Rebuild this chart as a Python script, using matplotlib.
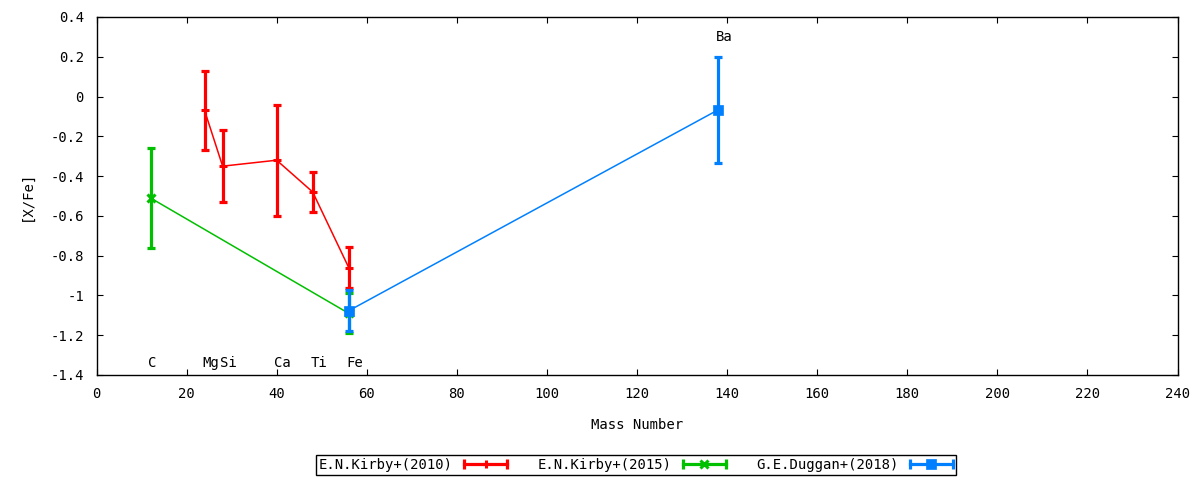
import matplotlib
matplotlib.use('Agg')
import matplotlib.pyplot as plt
from matplotlib.legend_handler import HandlerBase
from matplotlib.lines import Line2D

# ---- data ----
mass_2010 = [24, 28, 40, 48, 56]
xfe_2010 = [-0.07, -0.35, -0.32, -0.48, -0.86]
err_2010 = [0.20, 0.18, 0.28, 0.10, 0.105]

mass_2015 = [12, 56]
xfe_2015 = [-0.51, -1.09]
err_2015 = [0.25, 0.10]

mass_2018 = [56, 138]
xfe_2018 = [-1.077, -0.067]
err_2018 = [0.103, 0.267]

elem_names = ['C', 'Mg', 'Si', 'Ca', 'Ti', 'Fe', 'Ba']
elem_mass = [12, 24, 28, 40, 48, 56, 138]
elem_label_y = [-1.34, -1.34, -1.34, -1.34, -1.34, -1.34, 0.30]

x_ticks = [0, 20, 40, 60, 80, 100, 120, 140, 160, 180, 200, 220, 240]
y_ticks = [0.4, 0.2, 0, -0.2, -0.4, -0.6, -0.8, -1, -1.2, -1.4]
y_tick_labels = ['0.4', '0.2', '0', '-0.2', '-0.4', '-0.6', '-0.8', '-1', '-1.2', '-1.4']

RED = '#ff0000'
GREEN = '#00c000'
BLUE = '#0080ff'

FONT = 'DejaVu Sans Mono'
plt.rcParams['font.family'] = [FONT, 'DejaVu Sans']
plt.rcParams['font.size'] = 10

fig = plt.figure(figsize=(12, 4.8), dpi=100)
ax = fig.add_axes([96.5 / 1200, 1 - 375 / 480, (1177.5 - 96.5) / 1200, (375 - 17) / 480])

series = [
    (mass_2010, xfe_2010, err_2010, RED, '+', 6, 'E.N.Kirby+(2010)'),
    (mass_2015, xfe_2015, err_2015, GREEN, 'x', 6, 'E.N.Kirby+(2015)'),
    (mass_2018, xfe_2018, err_2018, BLUE, 's', 6.5, 'G.E.Duggan+(2018)'),
]

handles = []
for m, v, e, c, mk, ms, lab in series:
    ax.plot(m, v, color=c, lw=1.1, zorder=2)
    ax.errorbar(m, v, yerr=e, fmt='none', ecolor=c, elinewidth=2.3,
                capsize=2.6, capthick=2.3, zorder=3)
    ax.plot(m, v, linestyle='none', marker=mk, color=c, markersize=ms,
            markeredgewidth=2.2 if mk != 's' else 0.5, zorder=4)
    h = Line2D([], [], color=c, marker=mk, markersize=ms, label=lab)
    handles.append(h)

for name, xm, yl in zip(elem_names, elem_mass, elem_label_y):
    ax.annotate(name, (xm, yl), xytext=(-1.8, 0), textcoords='offset points',
                ha='left', va='center', fontsize=10)

ax.set_xlim(0, 240)
ax.set_ylim(-1.4, 0.4)
ax.set_xticks(x_ticks)
ax.set_xticklabels([str(t) for t in x_ticks])
ax.set_yticks(y_ticks)
ax.set_yticklabels(y_tick_labels)
ax.tick_params(direction='in', length=4.5, width=0.8, top=True, right=True,
               labelsize=10)
ax.tick_params(axis='x', pad=9)
ax.tick_params(axis='y', pad=9)
for s in ax.spines.values():
    s.set_linewidth(1.0)
ax.set_xlabel('Mass Number', fontsize=10, labelpad=12)
ax.set_ylabel('[X/Fe]', fontsize=10, labelpad=12)


class HandlerErrH(HandlerBase):
    def create_artists(self, legend, orig_handle, xdescent, ydescent,
                       width, height, fontsize, trans):
        c = orig_handle.get_color()
        y = height / 2 - ydescent
        x0, x1 = -xdescent, width - xdescent
        line = Line2D([x0, x1], [y, y], color=c, lw=2.3, transform=trans)
        caps = Line2D([x0, x1], [y, y], linestyle='none', marker='|',
                      markersize=7, markeredgewidth=2.3, color=c, transform=trans)
        mk = orig_handle.get_marker()
        mid = Line2D([(x0 + x1) / 2], [y], linestyle='none', marker=mk,
                     markersize=orig_handle.get_markersize(), color=c,
                     markeredgewidth=2.2 if mk != 's' else 0.5, transform=trans)
        return [line, caps, mid]


leg = fig.legend(handles=handles, loc='center', bbox_to_anchor=(636 / 1200, 1 - 465 / 480),
                 ncol=3, markerfirst=False, frameon=True, fancybox=False,
                 edgecolor='black', framealpha=1, handlelength=3.1,
                 handletextpad=0.8, columnspacing=2.2, borderpad=0.25,
                 fontsize=10, handler_map={Line2D: HandlerErrH()})
leg.get_frame().set_linewidth(1.0)

fig.savefig('out.png', dpi=100)
